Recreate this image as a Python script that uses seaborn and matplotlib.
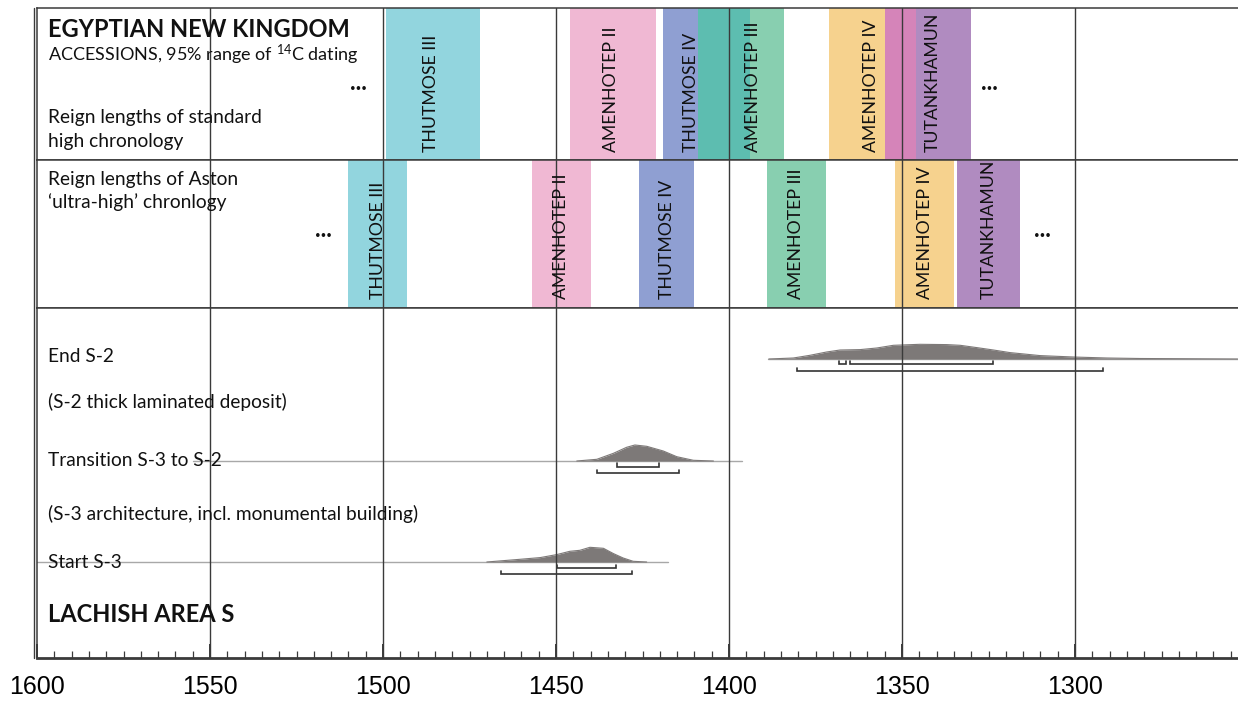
import numpy as np
import pandas as pd
import matplotlib
matplotlib.use("Agg")
import matplotlib.pyplot as plt
from matplotlib.lines import Line2D
from matplotlib.ticker import MultipleLocator, FixedLocator
import seaborn as sns

sns.set_theme(style="white")
plt.rcParams["font.family"] = ["Lato", "DejaVu Sans"]
plt.rcParams["mathtext.fontset"] = "custom"
plt.rcParams["mathtext.rm"] = "Lato"

# ---------------- data ----------------
# Standard high chronology (years BC, start -> end)
high_names = ["THUTMOSE III", "AMENHOTEP II", "THUTMOSE IV", "AMENHOTEP III",
              "AMENHOTEP IV", "", "TUTANKHAMUN"]
high_start = [1499, 1446, 1419, 1409, 1371, 1355, 1346]
high_end = [1472, 1421, 1394, 1384, 1355, 1346, 1330]
high_label_year = [1486, 1434, 1411, 1393, 1359, None, 1341]
high_colors = ["#92d5de", "#f0b8d3", "#8f9fd2", "#88cfb0", "#f6d28e", "#d584b9", "#b08bc0"]
overlap_color = "#5dbdb0"

# Aston 'ultra-high' chronology
aston_names = ["THUTMOSE III", "AMENHOTEP II", "THUTMOSE IV", "AMENHOTEP III",
               "AMENHOTEP IV", "TUTANKHAMUN"]
aston_start = [1510, 1457, 1426, 1389, 1352, 1334]
aston_end = [1493, 1440, 1410, 1372, 1335, 1316]
aston_colors = ["#92d5de", "#f0b8d3", "#8f9fd2", "#88cfb0", "#f6d28e", "#b08bc0"]

# Lachish Area S modelled dates (relative probability)
end_s2_years = [1388.5, 1381.4, 1376.6, 1371.8, 1367.9, 1362.1, 1357.3, 1352.5, 1344.8,
                1337.1, 1333.2, 1328.4, 1323.6, 1318.8, 1310.1, 1300.5, 1290.8, 1281.2, 1253]
end_s2_prob = [0, 1, 3.7, 7, 9, 9.4, 11, 13.7, 14.7, 14.4, 13.7, 11.4, 9, 6.4, 3.4, 2, 1, 0.5, 0]
trans_years = [1444, 1438.2, 1433.4, 1429.6, 1427.2, 1423.8, 1419, 1415.1, 1410.3, 1404.5]
trans_prob = [0, 1.7, 7.7, 13.7, 16, 14.7, 10, 4.3, 0.7, 0]
start_years = [1470, 1460.4, 1454.6, 1449.8, 1446, 1443.1, 1440.2, 1436.3, 1433.4, 1430.6, 1427.7, 1423.8]
start_prob = [0, 2.7, 4.4, 7.4, 10.7, 11.7, 14.7, 13.7, 8.4, 4, 0.7, 0]

end_s2_line = (1388.7, 1253)
trans_line = (1555, 1396.3)
start_line = (1600, 1417.6)

end_s2_68 = [(1368.2, 1366.3), (1365.0, 1323.6)]
end_s2_95 = [(1380.4, 1291.8)]
trans_68 = [(1432.5, 1420.3)]
trans_95 = [(1438.1, 1414.4)]
start_68 = [(1449.8, 1432.8)]
start_95 = [(1465.9, 1428.0)]

dots_high = [1507.2, 1324.6]
dots_aston = [1517.3, 1309.5]

major_ticks = [1600, 1550, 1500, 1450, 1400, 1350, 1300]
x_left, x_right = 1600, 1252.9

# ---------------- figure ----------------
W, H = 1238, 701
fig = plt.figure(figsize=(W / 100, H / 100), dpi=100)
fig.patch.set_facecolor("white")

def fy(px):
    return 1 - px / H

left = 37 / W
width = 1 - left
ax1 = fig.add_axes([left, fy(160), width, fy(8) - fy(160)])
ax2 = fig.add_axes([left, fy(308), width, fy(160) - fy(308)])
ax3 = fig.add_axes([left, fy(658), width, fy(308) - fy(658)])

line_col = "#3a3a3a"
txt_col = "#111111"
lab_size = 12.7
body_size = 13.8

for ax in (ax1, ax2, ax3):
    ax.set_xlim(x_left, x_right)
    ax.set_facecolor("white")
    for s in ["top", "left", "bottom"]:
        ax.spines[s].set_visible(True)
        ax.spines[s].set_color(line_col)
        ax.spines[s].set_linewidth(1.1)
    ax.spines["right"].set_visible(False)
    ax.set_yticks([])
    ax.xaxis.set_major_locator(FixedLocator(major_ticks))
    ax.grid(False)
    for t in major_ticks[1:]:
        ax.axvline(t, color=line_col, lw=1.0, zorder=5)

ax1.set_ylim(0, 1)
ax2.set_ylim(0, 1)
ax1.tick_params(axis="x", bottom=False, labelbottom=False)
ax2.tick_params(axis="x", bottom=False, labelbottom=False)

# --- reign bars, standard high chronology ---
for s, e, c in zip(high_start, high_end, high_colors):
    ax1.axvspan(s, e, color=c, lw=0, zorder=1)
for i in range(len(high_start) - 1):
    o_s, o_e = high_start[i + 1], high_end[i]
    if o_s > o_e:
        ax1.axvspan(o_s, o_e, color=overlap_color, lw=0, zorder=2)
for name, xl in zip(high_names, high_label_year):
    if name and xl is not None:
        ax1.text(xl, 0.055, name, rotation=90, ha="center", va="bottom",
                 fontsize=lab_size, color=txt_col, zorder=6,
                 transform=ax1.get_xaxis_transform())

# --- reign bars, Aston ---
for s, e, c, name in zip(aston_start, aston_end, aston_colors, aston_names):
    ax2.axvspan(s, e, color=c, lw=0, zorder=1)
    ax2.text((s + e) / 2, 0.058, name, rotation=90, ha="center", va="bottom",
             fontsize=lab_size, color=txt_col, zorder=6,
             transform=ax2.get_xaxis_transform())

for xd in dots_high:
    ax1.text(xd, 0.47, "•••", ha="center", va="center", fontsize=7, color=txt_col)
for xd in dots_aston:
    ax2.text(xd, 0.49, "•••", ha="center", va="center", fontsize=7, color=txt_col)

# --- left texts rows 1 & 2 ---
tx = (48 - 37) / (W - 37)
ax1.text(tx, 0.809, "EGYPTIAN NEW KINGDOM", transform=ax1.transAxes, fontsize=17,
         fontweight="bold", color=txt_col, va="baseline", ha="left", zorder=7)
ax1.text(tx, 0.653, r"ACCESSIONS, 95% range of $\mathregular{^{14}}$C dating",
         transform=ax1.transAxes, fontsize=13, color=txt_col, va="baseline", ha="left", zorder=7)
ax1.text(tx, 0.241, "Reign lengths of standard", transform=ax1.transAxes, fontsize=body_size,
         color=txt_col, va="baseline", ha="left", zorder=7)
ax1.text(tx, 0.0875, "high chronology", transform=ax1.transAxes, fontsize=body_size,
         color=txt_col, va="baseline", ha="left", zorder=7)
ax2.text(tx, 0.831, "Reign lengths of Aston", transform=ax2.transAxes, fontsize=body_size,
         color=txt_col, va="baseline", ha="left", zorder=7)
ax2.text(tx, 0.674, "\u2018ultra-high\u2019 chronlogy", transform=ax2.transAxes, fontsize=body_size,
         color=txt_col, va="baseline", ha="left", zorder=7)

# --- Lachish Area S ---
ax3.set_ylim(0, 350)
base = {"end": 299, "trans": 197, "start": 96}
events = [
    ("end", end_s2_years, end_s2_prob, end_s2_line, end_s2_68, end_s2_95),
    ("trans", trans_years, trans_prob, trans_line, trans_68, trans_95),
    ("start", start_years, start_prob, start_line, start_68, start_95),
]
fill_col = "#7d7978"
for key, yrs, prob, bl, r68, r95 in events:
    b = base[key]
    ax3.plot([bl[0], bl[1]], [b, b], color="#a8a8a8", lw=1.0, zorder=2)
    df = pd.DataFrame({"year": yrs, "y": np.asarray(prob) + b})
    ax3.fill_between(df["year"], b, df["y"], color=fill_col, lw=0, zorder=3)
    sns.lineplot(data=df, x="year", y="y", ax=ax3, color=fill_col, lw=0.8, zorder=3,
                 sort=False, estimator=None)
    for ranges, off in ((r68, 5.5), (r95, 12)):
        for a, c in ranges:
            yb = b - off
            ax3.plot([a, a, c, c], [yb + 3, yb, yb, yb + 3], color="#333333",
                     lw=1.2, zorder=4, solid_joinstyle="miter")
ax3.set_xlabel("")
ax3.set_ylabel("")

row3_texts = [
    ("End S-2", 296.3),
    ("(S-2 thick laminated deposit)", 249.7),
    ("Transition S-3 to S-2", 192),
    ("(S-3 architecture, incl. monumental building)", 138),
    ("Start S-3", 89.7),
]
for t, yy in row3_texts:
    ax3.text(tx, yy, t, transform=ax3.get_yaxis_transform(), fontsize=body_size,
             color=txt_col, va="baseline", ha="left", zorder=7)
ax3.text(tx, 36, "LACHISH AREA S", transform=ax3.get_yaxis_transform(), fontsize=17,
         fontweight="bold", color=txt_col, va="baseline", ha="left", zorder=7)

# --- x axis ---
ax3.spines["bottom"].set_linewidth(2.0)
ax3.xaxis.set_minor_locator(MultipleLocator(5))
ax3.set_xticks(major_ticks)
ax3.set_xticklabels([str(t) for t in major_ticks])
ax3.tick_params(axis="x", which="major", direction="in", length=10, width=1.4,
                color=line_col, bottom=True, pad=12, labelsize=18, labelcolor="black")
ax3.tick_params(axis="x", which="minor", direction="in", length=5, width=0.9,
                color=line_col, bottom=True)
for lab in ax3.get_xticklabels():
    lab.set_family(["Liberation Sans Narrow", "Liberation Sans", "DejaVu Sans"])

# outer left border line (double line look)
fig.add_artist(Line2D([34 / W, 34 / W], [fy(8), fy(658)], color=line_col, lw=1.0))

fig.savefig("out.png", dpi=100, facecolor="white")
